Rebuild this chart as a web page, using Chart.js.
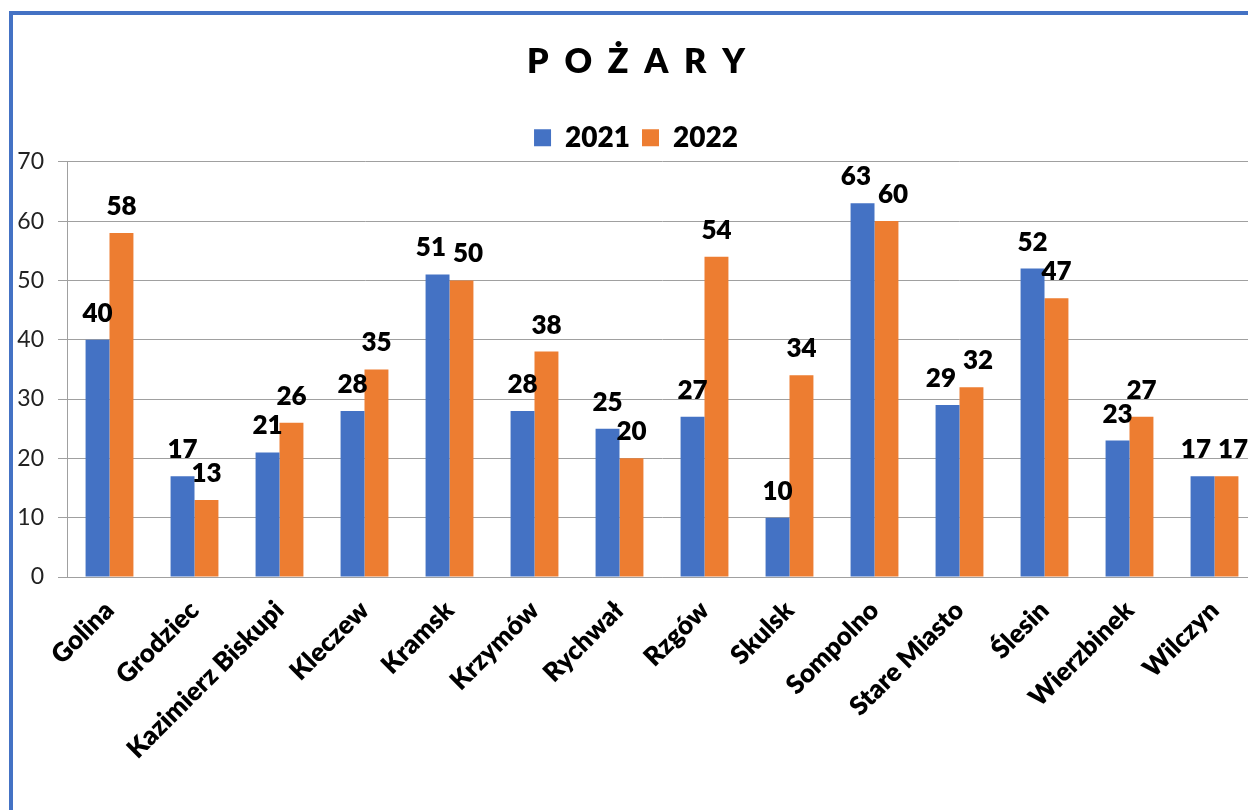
<!DOCTYPE html>
<html>
<head>
<meta charset="utf-8">
<script src="https://cdn.jsdelivr.net/npm/chart.js@4"></script>
<style>
  html, body { margin: 0; padding: 0; background: #fff; overflow: hidden; width: 1248px; height: 810px; }
  #frame { position: absolute; left: 9px; top: 11px; width: 1300px; height: 900px;
           border-left: 4px solid #4472C4; border-top: 4px solid #4472C4; pointer-events: none; }
  #chart { position: absolute; left: 0; top: 0; }
</style>
</head>
<body>
<canvas id="chart" width="1270" height="810"></canvas>
<div id="frame"></div>
<script>
const gminy = ['Golina', 'Grodziec', 'Kazimierz Biskupi', 'Kleczew', 'Kramsk', 'Krzymów', 'Rychwał',
  'Rzgów', 'Skulsk', 'Sompolno', 'Stare Miasto', 'Ślesin', 'Wierzbinek', 'Wilczyn'];
const pozary2021 = [40, 17, 21, 28, 51, 28, 25, 27, 10, 63, 29, 52, 23, 17];
const pozary2022 = [58, 13, 26, 35, 50, 38, 20, 54, 34, 60, 32, 47, 27, 17];

const FONT = 'Lato';
const WAGA = '800';

// etykiety z wartościami nad słupkami (rozsuwane gdy na siebie nachodzą)
const etykiety = {
  id: 'etykiety',
  afterDatasetsDraw(chart) {
    const ctx = chart.ctx;
    const size = 26;
    ctx.save();
    ctx.font = WAGA + ' ' + size + 'px ' + FONT;
    ctx.fillStyle = '#000';
    ctx.textAlign = 'center';
    ctx.textBaseline = 'alphabetic';
    const m0 = chart.getDatasetMeta(0).data;
    const m1 = chart.getDatasetMeta(1).data;
    chart.data.labels.forEach((_, j) => {
      const t0 = String(chart.data.datasets[0].data[j]);
      const t1 = String(chart.data.datasets[1].data[j]);
      let x0 = m0[j].x, x1 = m1[j].x;
      const y0 = m0[j].y - 18, y1 = m1[j].y - 18;
      const w0 = ctx.measureText(t0).width, w1 = ctx.measureText(t1).width;
      if (Math.abs(y0 - y1) < size * 0.8) {
        const gap = (x1 - w1 / 2) - (x0 + w0 / 2);
        if (gap < 7) {
          const d = (7 - gap) / 2;
          x0 -= d; x1 += d;
        }
      }
      ctx.fillText(t0, x0, y0);
      ctx.fillText(t1, x1, y1);
    });
    ctx.restore();
  }
};

new Chart(document.getElementById('chart').getContext('2d'), {
  type: 'bar',
  data: {
    labels: gminy,
    datasets: [
      { label: '2021', data: pozary2021, backgroundColor: '#4472C4' },
      { label: '2022', data: pozary2022, backgroundColor: '#ED7D31' }
    ]
  },
  options: {
    responsive: false,
    animation: false,
    layout: { padding: { left: 15, right: 13, top: 0, bottom: 0 } },
    categoryPercentage: 0.563,
    barPercentage: 1.0,
    plugins: {
      title: {
        display: true,
        text: 'P  O  Ż  A  R  Y',
        color: '#000',
        font: { family: FONT, size: 34, weight: WAGA },
        padding: { top: 42, bottom: 29 }
      },
      legend: {
        display: true,
        labels: {
          color: '#000',
          font: { family: FONT, size: 28, weight: WAGA },
          boxWidth: 17,
          boxHeight: 17,
          padding: 12
        }
      },
      tooltip: { enabled: false }
    },
    scales: {
      x: {
        grid: { display: false },
        border: { display: true, color: '#a0a0a0' },
        ticks: {
          autoSkip: false,
          maxRotation: 45,
          minRotation: 45,
          color: '#000',
          padding: 10,
          font: { family: FONT, size: 26, weight: WAGA }
        },
        afterFit(scale) { scale.height = 233; }
      },
      y: {
        min: 0,
        max: 70,
        ticks: {
          stepSize: 10,
          color: '#222',
          padding: 14,
          font: { family: FONT, size: 23 }
        },
        grid: { color: '#a0a0a0', tickLength: 9 },
        border: { display: true, color: '#a0a0a0' },
        afterFit(scale) { scale.width = 52; }
      }
    }
  },
  plugins: [etykiety]
});
</script>
</body>
</html>
